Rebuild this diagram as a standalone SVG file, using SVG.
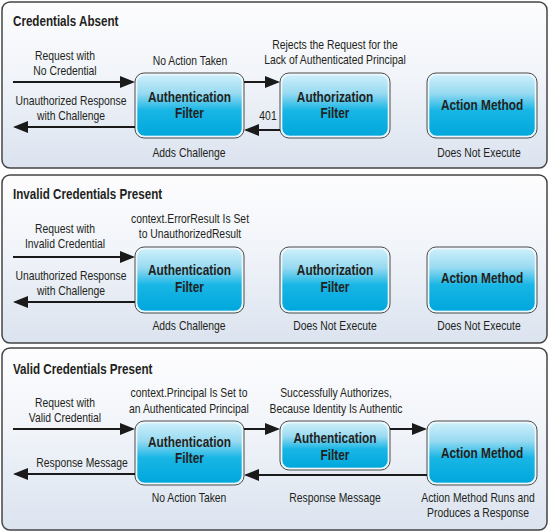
<svg xmlns="http://www.w3.org/2000/svg" width="550" height="532" viewBox="0 0 550 532">
<defs>
<linearGradient id="panelGrad" x1="0" y1="0" x2="0" y2="1">
<stop offset="0" stop-color="#fdfdfe"/>
<stop offset="0.45" stop-color="#f1f4f9"/>
<stop offset="1" stop-color="#dbe3ef"/>
</linearGradient>
<linearGradient id="nodeGrad" x1="0" y1="0" x2="0" y2="1">
<stop offset="0" stop-color="#cdeffa"/>
<stop offset="0.3" stop-color="#98daf1"/>
<stop offset="0.58" stop-color="#18b6e5"/>
<stop offset="1" stop-color="#00a7dc"/>
</linearGradient>
<marker id="ah" markerWidth="15" markerHeight="12" refX="13" refY="6" orient="auto" markerUnits="userSpaceOnUse">
<path d="M0,0 L15,6 L0,12 z" fill="#1a1a1a"/>
</marker>
</defs>
<style>
.panel{fill:url(#panelGrad);stroke:#444;stroke-width:1.5}
.nout{fill:#eaf7fc;stroke:#4a4a4a;stroke-width:1}
.nin{fill:url(#nodeGrad);stroke:#f4fbfe;stroke-width:0.8;stroke-opacity:0.8}
.title{font-family:"Liberation Sans",Arial,sans-serif;font-weight:bold;font-size:15.5px;fill:#231f20}
.ntext{font-family:"Liberation Sans",Arial,sans-serif;font-weight:bold;font-size:15.5px;fill:#231f20;text-anchor:middle}
.lbl{font-family:"Liberation Sans",Arial,sans-serif;font-size:12.5px;fill:#231f20;text-anchor:middle}
.conn line{stroke:#1a1a1a;stroke-width:2;fill:none;marker-end:url(#ah)}
</style>

<!-- Panel 1: Credentials Absent -->
<g id="panel-absent">
<rect class="panel" x="2" y="2" width="545" height="166" rx="8"/>
<text class="title" transform="translate(13 26) scale(.75 1)">Credentials Absent</text>
<text class="lbl" transform="translate(65 60) scale(.83 1)">Request with</text>
<text class="lbl" transform="translate(65 75) scale(.83 1)">No Credential</text>
<text class="lbl" transform="translate(71 105) scale(.83 1)">Unauthorized Response</text>
<text class="lbl" transform="translate(71 120) scale(.83 1)">with Challenge</text>
<text class="lbl" transform="translate(190 65) scale(.83 1)">No Action Taken</text>
<text class="lbl" transform="translate(335 49) scale(.83 1)">Rejects the Request for the</text>
<text class="lbl" transform="translate(335 64) scale(.83 1)">Lack of Authenticated Principal</text>
<text class="lbl" transform="translate(268 120) scale(.83 1)">401</text>
<text class="lbl" transform="translate(189 157) scale(.83 1)">Adds Challenge</text>
<text class="lbl" transform="translate(479 157) scale(.83 1)">Does Not Execute</text>
</g>
<g id="p1-authn">
<rect class="nout" x="135" y="73" width="109" height="65" rx="9"/>
<rect class="nin" x="137" y="75" width="105" height="61" rx="7.5"/>
<text class="ntext" transform="translate(189.5 102) scale(.765 1)">Authentication</text>
<text class="ntext" transform="translate(189.5 118) scale(.765 1)">Filter</text>
</g>
<g id="p1-authz">
<rect class="nout" x="280" y="73" width="110" height="65" rx="9"/>
<rect class="nin" x="282" y="75" width="106" height="61" rx="7.5"/>
<text class="ntext" transform="translate(335 102) scale(.765 1)">Authorization</text>
<text class="ntext" transform="translate(335 118) scale(.765 1)">Filter</text>
</g>
<g id="p1-action">
<rect class="nout" x="427" y="73" width="110" height="65" rx="9"/>
<rect class="nin" x="429" y="75" width="106" height="61" rx="7.5"/>
<text class="ntext" transform="translate(482 110) scale(.765 1)">Action Method</text>
</g>

<!-- Panel 2: Invalid Credentials Present -->
<g id="panel-invalid">
<rect class="panel" x="2" y="175" width="545" height="168" rx="8"/>
<text class="title" transform="translate(13 199) scale(.75 1)">Invalid Credentials Present</text>
<text class="lbl" transform="translate(65 233) scale(.83 1)">Request with</text>
<text class="lbl" transform="translate(65 248) scale(.83 1)">Invalid Credential</text>
<text class="lbl" transform="translate(71 280) scale(.83 1)">Unauthorized Response</text>
<text class="lbl" transform="translate(71 295) scale(.83 1)">with Challenge</text>
<text class="lbl" transform="translate(190 223) scale(.83 1)">context.ErrorResult Is Set</text>
<text class="lbl" transform="translate(190 238) scale(.83 1)">to UnauthorizedResult</text>
<text class="lbl" transform="translate(189 330) scale(.83 1)">Adds Challenge</text>
<text class="lbl" transform="translate(335 330) scale(.83 1)">Does Not Execute</text>
<text class="lbl" transform="translate(479 330) scale(.83 1)">Does Not Execute</text>
</g>
<g id="p2-authn">
<rect class="nout" x="135" y="247" width="109" height="66" rx="9"/>
<rect class="nin" x="137" y="249" width="105" height="62" rx="7.5"/>
<text class="ntext" transform="translate(189.5 275) scale(.765 1)">Authentication</text>
<text class="ntext" transform="translate(189.5 292) scale(.765 1)">Filter</text>
</g>
<g id="p2-authz">
<rect class="nout" x="280" y="247" width="110" height="66" rx="9"/>
<rect class="nin" x="282" y="249" width="106" height="62" rx="7.5"/>
<text class="ntext" transform="translate(335 275) scale(.765 1)">Authorization</text>
<text class="ntext" transform="translate(335 292) scale(.765 1)">Filter</text>
</g>
<g id="p2-action">
<rect class="nout" x="427" y="247" width="110" height="66" rx="9"/>
<rect class="nin" x="429" y="249" width="106" height="62" rx="7.5"/>
<text class="ntext" transform="translate(482 283) scale(.765 1)">Action Method</text>
</g>

<!-- Panel 3: Valid Credentials Present -->
<g id="panel-valid">
<rect class="panel" x="2" y="348" width="545" height="182" rx="8"/>
<text class="title" transform="translate(13 374) scale(.75 1)">Valid Credentials Present</text>
<text class="lbl" transform="translate(65 407) scale(.83 1)">Request with</text>
<text class="lbl" transform="translate(65 422) scale(.83 1)">Valid Credential</text>
<text class="lbl" transform="translate(82 467) scale(.83 1)">Response Message</text>
<text class="lbl" transform="translate(189 397) scale(.83 1)">context.Principal Is Set to</text>
<text class="lbl" transform="translate(189 413) scale(.83 1)">an Authenticated Principal</text>
<text class="lbl" transform="translate(336 397) scale(.83 1)">Successfully Authorizes,</text>
<text class="lbl" transform="translate(336 413) scale(.83 1)">Because Identity Is Authentic</text>
<text class="lbl" transform="translate(189 502) scale(.83 1)">No Action Taken</text>
<text class="lbl" transform="translate(335 502) scale(.83 1)">Response Message</text>
<text class="lbl" transform="translate(478 502) scale(.83 1)">Action Method Runs and</text>
<text class="lbl" transform="translate(478 517) scale(.83 1)">Produces a Response</text>
</g>
<g id="p3-authn">
<rect class="nout" x="135" y="421" width="109" height="64" rx="9"/>
<rect class="nin" x="137" y="423" width="105" height="60" rx="7.5"/>
<text class="ntext" transform="translate(189.5 446.5) scale(.765 1)">Authentication</text>
<text class="ntext" transform="translate(189.5 463) scale(.765 1)">Filter</text>
</g>
<g id="p3-authn2">
<rect class="nout" x="280" y="421" width="110" height="49" rx="9"/>
<rect class="nin" x="282" y="423" width="106" height="45" rx="7.5"/>
<text class="ntext" transform="translate(335 443) scale(.765 1)">Authentication</text>
<text class="ntext" transform="translate(335 460) scale(.765 1)">Filter</text>
</g>
<g id="p3-action">
<rect class="nout" x="427" y="421" width="110" height="64" rx="9"/>
<rect class="nin" x="429" y="423" width="106" height="60" rx="7.5"/>
<text class="ntext" transform="translate(482 458) scale(.765 1)">Action Method</text>
</g>

<g id="connectors" class="conn">
<line x1="13" y1="82" x2="133" y2="82"/>
<line x1="135" y1="127" x2="15" y2="127"/>
<line x1="244" y1="82" x2="278" y2="82"/>
<line x1="280" y1="130" x2="246" y2="130"/>
<line x1="13" y1="257" x2="133" y2="257"/>
<line x1="135" y1="302" x2="15" y2="302"/>
<line x1="13" y1="429" x2="133" y2="429"/>
<line x1="244" y1="429" x2="278" y2="429"/>
<line x1="390" y1="429" x2="425" y2="429"/>
<line x1="427" y1="475" x2="246" y2="475"/>
<line x1="135" y1="474" x2="15" y2="474"/>
</g>
</svg>
